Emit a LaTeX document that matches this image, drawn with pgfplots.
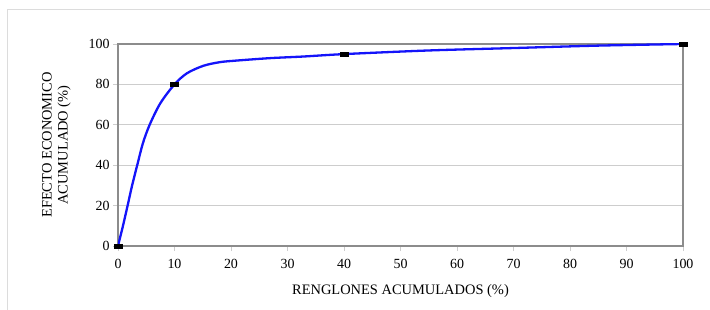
\documentclass[border=0pt]{standalone}
\usepackage{fontspec}
\setmainfont{Liberation Serif}
\usepackage{pgfplots}
\pgfplotsset{compat=1.18}
\definecolor{axgray}{RGB}{140,140,140}
\definecolor{gridgray}{RGB}{205,205,205}
\definecolor{framegray}{RGB}{220,220,220}
\definecolor{curveblue}{RGB}{20,20,250}
\begin{document}
\begin{tikzpicture}
\useasboundingbox (-118bp,-64bp) rectangle (592bp,246bp);
\draw[framegray, line width=1bp] (-110bp,-64bp) -- (-110bp,236bp) -- (592bp,236bp);
\begin{axis}[
  at={(0,0)}, anchor=south west,
  scale only axis,
  width=565bp, height=202bp,
  xmin=0, xmax=100, ymin=0, ymax=100,
  xtick={0,10,...,100}, ytick={0,20,...,100},
  tick align=outside,
  major tick length=5bp,
  tick style={gridgray, line width=0.8bp},
  ymajorgrids, grid style={gridgray, line width=0.8bp},
  axis line style={axgray, line width=1.2bp},
  xtick pos=bottom, ytick pos=left,
  /pgf/number format/assume math mode=true,
  tick label style={font=\fontsize{14}{16}\selectfont},
  xticklabel style={yshift=-5bp},
  xlabel={RENGLONES ACUMULADOS (\%)},
  ylabel={EFECTO ECONOMICO\\ACUMULADO (\%)},
  label style={font=\fontsize{14.5}{16}\selectfont},
  ylabel style={align=center},
  xlabel shift=9bp,
  ylabel shift=11bp,
]
% curve
\addplot[curveblue, line width=2.3bp, smooth, tension=0.5, no marks]
  coordinates {(0,0) (0.83,9.4) (1.7,20) (2.5,30) (3.4,40) (4.4,50.8) (5.6,60)
   (7.5,70.7) (10,80) (12.2,85.5) (15.1,89.2) (18,91) (21,91.8) (26.9,93)
   (32.8,93.8) (40,95) (55,96.8) (70,98) (85,99.2) (100,100)};
% data points
\addplot[only marks, mark=square*, mark size=2bp,
  mark options={black, fill=black, line width=0.3bp, xscale=2, yscale=0.9}]
  coordinates {(0,0) (10,80) (40,95) (100,100)};
\end{axis}
\end{tikzpicture}
\end{document}
